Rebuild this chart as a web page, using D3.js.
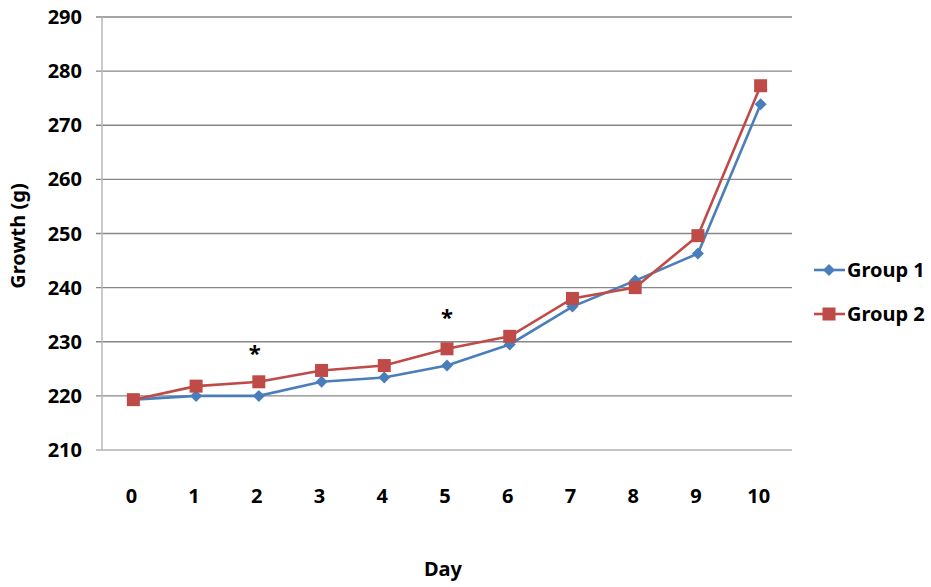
<!DOCTYPE html>
<html><head><meta charset="utf-8">
<script src="https://cdn.jsdelivr.net/npm/d3@7"></script>
<style>body{margin:0;background:#fff}text{font-family:"Noto Sans","Open Sans",sans-serif;font-weight:bold}</style>
</head><body><svg id="c" width="931" height="587"></svg>
<script>
const days = ["0","1","2","3","4","5","6","7","8","9","10"];
const group1 = [219.3,220.0,220.0,222.6,223.4,225.6,229.5,236.5,241.3,246.3,273.9];
const group2 = [219.3,221.8,222.6,224.7,225.6,228.7,231.0,238.0,240.0,249.6,277.3];
const yTicks = [210,220,230,240,250,260,270,280,290];
const seriesNames = ["Group 1","Group 2"];
const significant = [{day:"2", y:228.7},{day:"5", y:235.3}];

const svg = d3.select("#c");
const L=102, R=792, T=17, B=450;
const x = d3.scaleBand().domain(days).range([L,R]);
const y = d3.scaleLinear().domain([210,290]).range([B,T]);
const cx = d => x(d)+x.bandwidth()/2;

svg.append("g").selectAll("line").data(yTicks).join("line")
  .attr("x1",L-6).attr("x2",R).attr("y1",d=>y(d)).attr("y2",d=>y(d))
  .attr("stroke",d=>d===210?"#b0b0b0":"#878787").attr("stroke-width",1.3);
svg.append("line").attr("x1",L).attr("x2",L).attr("y1",T).attr("y2",B).attr("stroke","#b8b8b8").attr("stroke-width",1.5);

svg.append("g").selectAll("text").data(yTicks).join("text")
  .attr("x",82).attr("y",d=>y(d)+7).attr("text-anchor","end").attr("font-size",20).attr("fill","#000").text(d=>d);
svg.append("g").selectAll("text").data(days).join("text")
  .attr("x",d=>cx(d)-2).attr("y",503).attr("text-anchor","middle").attr("font-size",20).attr("fill","#000").text(d=>d);

svg.append("text").attr("transform","translate(25,236) rotate(-90)").attr("text-anchor","middle").attr("font-size",20).text("Growth (g)");
svg.append("text").attr("x",443).attr("y",576).attr("text-anchor","middle").attr("font-size",20).text("Day");

const colors=["#4a7ebb","#be4b48"];
const line = d3.line().x((d,i)=>cx(days[i])).y(d=>y(d));
[group1,group2].forEach((g,k)=>{
  svg.append("path").attr("d",line(g)).attr("fill","none").attr("stroke",colors[k]).attr("stroke-width",2.6);
});
const dia = "M0,-6L6,0L0,6L-6,0Z";
svg.append("g").selectAll("path").data(group1).join("path")
  .attr("transform",(d,i)=>`translate(${cx(days[i])},${y(d)})`).attr("d",dia).attr("fill",colors[0]);
svg.append("g").selectAll("rect").data(group2).join("rect")
  .attr("x",(d,i)=>cx(days[i])-6.5).attr("y",d=>y(d)-6.5).attr("width",13).attr("height",13).attr("fill",colors[1]);

svg.append("g").selectAll("text").data(significant).join("text")
  .attr("x",d=>cx(d.day)-(d.day==="2"?4:0)).attr("y",d=>y(d.y)+12).attr("text-anchor","middle").attr("font-size",22).attr("font-weight","normal").text("*");

const lg = svg.append("g");
seriesNames.forEach((n,k)=>{
  const ly = 270 + k*44;
  lg.append("line").attr("x1",814).attr("x2",845).attr("y1",ly).attr("y2",ly).attr("stroke",colors[k]).attr("stroke-width",2.6);
  if(k===0) lg.append("path").attr("transform",`translate(829,${ly})`).attr("d",dia).attr("fill",colors[0]);
  else lg.append("rect").attr("x",822.5).attr("y",ly-6.5).attr("width",13).attr("height",13).attr("fill",colors[1]);
  lg.append("text").attr("x",847).attr("y",ly+7).attr("font-size",20).text(n);
});
</script></body></html>
